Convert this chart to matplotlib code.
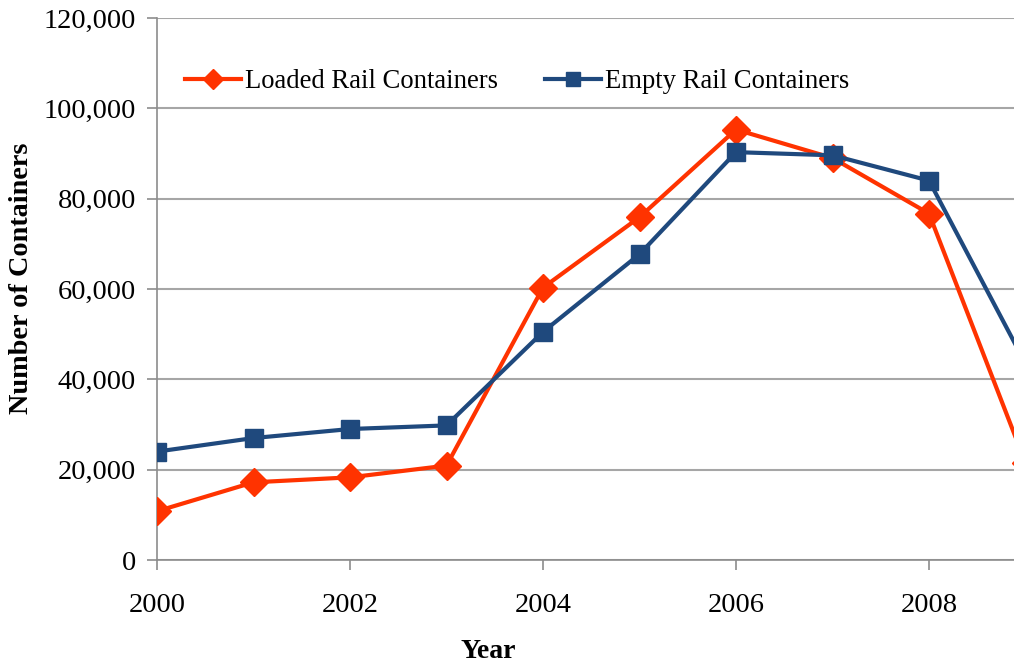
import matplotlib
matplotlib.use("Agg")
import matplotlib.pyplot as plt
from matplotlib.ticker import FuncFormatter

years = [2000, 2001, 2002, 2003, 2004, 2005, 2006, 2007, 2008, 2009]
loaded = [10800, 17200, 18300, 20900, 60300, 75900, 95300, 89000, 76700, 21500]
empty = [24000, 27000, 29000, 29800, 50500, 67700, 90300, 89600, 84000, 43500]
x_ticks = [2000, 2002, 2004, 2006, 2008]
y_ticks = [0, 20000, 40000, 60000, 80000, 100000, 120000]

plt.rcParams['font.family'] = ['Liberation Serif', 'DejaVu Serif']

W, H = 1014, 665
fig = plt.figure(figsize=(W / 100, H / 100), dpi=100)
left_px, top_px, bottom_px = 157, 18, 560
ax = fig.add_axes([left_px / W, 1 - bottom_px / H, 1 - left_px / W, (bottom_px - top_px) / H])

red = '#FF3300'
blue = '#1F497D'

ax.plot(years, loaded, color=red, lw=3, marker='D', markersize=14, label='Loaded Rail Containers', zorder=3)
ax.plot(years, empty, color=blue, lw=3, marker='s', markersize=13, label='Empty Rail Containers', zorder=3)

ax.set_xlim(2000, 2000 + (W - left_px) / 96.5)
ax.set_ylim(0, 120000)
ax.set_xticks(x_ticks)
ax.set_yticks(y_ticks)
ax.yaxis.set_major_formatter(FuncFormatter(lambda v, p: f"{int(v):,}"))
ax.grid(axis='y', color='#A6A6A6', lw=1.5)
ax.set_axisbelow(True)
for s in ['top', 'right']:
    ax.spines[s].set_visible(False)
for s in ['left', 'bottom']:
    ax.spines[s].set_color('#8C8C8C')
    ax.spines[s].set_linewidth(1.2)
ax.tick_params(axis='both', colors='#8C8C8C', length=7, width=1.2, labelsize=20.5, labelcolor='black')
ax.tick_params(axis='y', pad=8)
ax.tick_params(axis='x', pad=17)

fig.text(22 / W, 1 - 278 / H, 'Number of Containers', rotation=90, ha='center', va='center',
         fontsize=20.3, fontweight='bold')
fig.text(488 / W, 1 - 652 / H, 'Year', ha='center', va='center', fontsize=20, fontweight='bold')

leg = ax.legend(loc='upper left', bbox_to_anchor=(0.005, 0.95), ncol=2, frameon=False, fontsize=19.2,
                handlelength=2.1, handletextpad=0.15, columnspacing=1.75, markerscale=0.75)

fig.savefig('out.png', dpi=100)
